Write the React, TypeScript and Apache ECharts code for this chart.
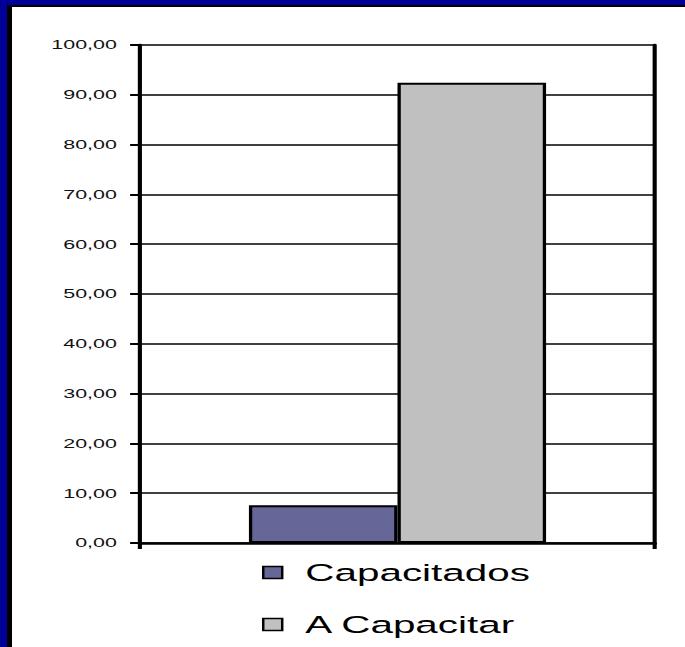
import React, { useEffect, useRef } from "react";
import * as echarts from "echarts";

const categories = [""];
const seriesNames = ["Capacitados", "A Capacitar"];
const capacitados = [7.6];
const aCapacitar = [92.4];
const yMin = 0;
const yMax = 100;
const yInterval = 10;

const S = 1.65;
const FRAME_W = 685;
const FRAME_H = 647;
const INNER_LEFT = 12;
const INNER_TOP = 7;
const INNER_W = FRAME_W - INNER_LEFT;
const INNER_H = FRAME_H - INNER_TOP;
const CHART_W = INNER_W / S;

const FONT = "'Liberation Sans', Arial, sans-serif";

export default function App() {
  const ref = useRef<HTMLDivElement>(null);

  useEffect(() => {
    if (!ref.current) return;
    const chart = echarts.init(ref.current, undefined, {
      renderer: "svg",
      width: CHART_W,
      height: INNER_H,
    });
    const gridLeft = (140 - INNER_LEFT) / S;
    const gridRight = CHART_W - (655 - INNER_LEFT) / S;
    chart.setOption({
      animation: false,
      textStyle: { fontFamily: FONT },
      grid: {
        left: gridLeft,
        right: gridRight,
        top: 45 - INNER_TOP,
        bottom: INNER_H - (543 - INNER_TOP),
        containLabel: false,
      },
      legend: {
        orient: "vertical",
        left: (262 - INNER_LEFT) / S,
        top: 553,
        padding: 0,
        itemWidth: 11.5,
        itemHeight: 12,
        itemGap: 27,
        icon: "rect",
        itemStyle: { borderColor: "#000", borderWidth: 1.5 },
        textStyle: {
          fontFamily: FONT,
          fontSize: 24.5,
          color: "#000",
          padding: [0, 0, 0, 9],
        },
        data: seriesNames,
      },
      xAxis: {
        type: "category",
        data: categories,
        boundaryGap: true,
        axisLine: { show: true, lineStyle: { color: "#000", width: 2.5 } },
        axisTick: {
          show: true,
          length: 6,
          inside: false,
          lineStyle: { color: "#000", width: 2.5 },
        },
        axisLabel: { show: false },
        splitLine: { show: false },
      },
      yAxis: [
        {
          type: "value",
          min: yMin,
          max: yMax,
          interval: yInterval,
          axisLine: { show: true, lineStyle: { color: "#000", width: 2.5 } },
          axisTick: {
            show: true,
            length: 6,
            lineStyle: { color: "#000", width: 2 },
          },
          axisLabel: {
            margin: 14,
            fontFamily: FONT,
            fontSize: 13,
            color: "#111",
            formatter: (v: number) => v.toFixed(2).replace(".", ","),
          },
          splitLine: { show: true, lineStyle: { color: "#000", width: 1.5 } },
        },
        {
          type: "value",
          position: "right",
          min: yMin,
          max: yMax,
          interval: yInterval,
          axisLine: { show: true, lineStyle: { color: "#000", width: 2.5 } },
          axisTick: { show: false },
          axisLabel: { show: false },
          splitLine: { show: false },
        },
      ],
      series: [
        {
          name: seriesNames[0],
          type: "bar",
          data: capacitados,
          barGap: "0%",
          barCategoryGap: "42.3%",
          itemStyle: { color: "#666699", borderColor: "#000", borderWidth: 2 },
        },
        {
          name: seriesNames[1],
          type: "bar",
          data: aCapacitar,
          barGap: "0%",
          barCategoryGap: "42.3%",
          itemStyle: { color: "#C0C0C0", borderColor: "#000", borderWidth: 2 },
        },
      ],
    });
    return () => chart.dispose();
  }, []);

  return (
    <div
      style={{
        position: "absolute",
        left: 0,
        top: 0,
        width: FRAME_W,
        height: FRAME_H,
        background: "#000099",
        overflow: "hidden",
      }}
    >
      <div
        style={{
          position: "absolute",
          left: 7,
          top: 5,
          width: FRAME_W,
          height: FRAME_H,
          background: "#000",
        }}
      />
      <div
        style={{
          position: "absolute",
          left: INNER_LEFT,
          top: INNER_TOP,
          width: INNER_W,
          height: INNER_H,
          background: "#fff",
          overflow: "hidden",
        }}
      >
        <div
          ref={ref}
          style={{
            position: "absolute",
            left: 0,
            top: 0,
            width: CHART_W,
            height: INNER_H,
            transform: `scaleX(${S})`,
            transformOrigin: "0 0",
          }}
        />
      </div>
    </div>
  );
}
